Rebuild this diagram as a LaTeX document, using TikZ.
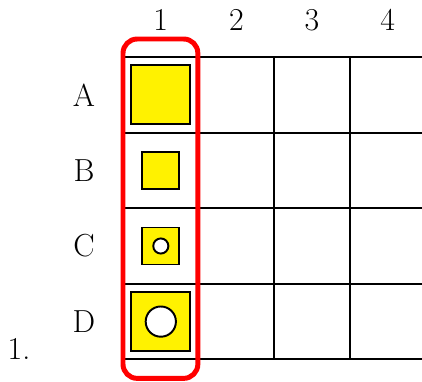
\documentclass[tikz,border=0pt]{standalone}
\usepackage{tikz}
\usetikzlibrary{positioning}

\begin{document}
\begin{tikzpicture}[x=1.5cm, y=1.5cm,
    lbl/.style={font=\fontsize{18}{22}\selectfont, inner sep=0pt},
    bigsq/.style={rectangle, draw, fill=yellow, line width=1.1pt, minimum size=1.17cm, inner sep=0pt},
    smallsq/.style={rectangle, draw, fill=yellow, line width=1.1pt, minimum size=0.735cm, inner sep=0pt},
    hole/.style={circle, draw, fill=white, line width=1.1pt, inner sep=0pt},
    gridline/.style={line width=1.1pt},
    selbox/.style={draw=red, line width=2.8pt, rounded corners=8pt}
]
    % Page frame
    \clip (-1.627,-0.291) rectangle (3.955,4.754);

    % Grid of cells
    \draw[gridline, step=1.5cm] (0,0) grid (4,4);

    % Column labels
    \node[lbl] (col1) at (0.5,4.49) {1};
    \node[lbl] (col2) at (1.5,4.49) {2};
    \node[lbl] (col3) at (2.5,4.49) {3};
    \node[lbl] (col4) at (3.5,4.49) {4};

    % Row labels
    \node[lbl] (rowA) at (-0.516,3.5) {A};
    \node[lbl] (rowB) at (-0.516,2.5) {B};
    \node[lbl] (rowC) at (-0.516,1.5) {C};
    \node[lbl] (rowD) at (-0.516,0.5) {D};

    % Item number
    \node[lbl, anchor=base] (item) at (-1.376,0) {1.};

    % Column 1 contents
    \node[bigsq] (sqA) at (0.5,3.5) {};
    \node[smallsq] (sqB) at (0.5,2.5) {};
    \node[smallsq] (sqC) at (0.5,1.5) {};
    \node[hole, minimum size=0.3cm] (holeC) at (sqC) {};
    \node[bigsq] (sqD) at (0.5,0.5) {};
    \node[hole, minimum size=0.6cm] (holeD) at (sqD) {};

    % Highlight of column 1
    \draw[selbox] (0,-0.251) rectangle (0.99,4.238);

\end{tikzpicture}
\end{document}
